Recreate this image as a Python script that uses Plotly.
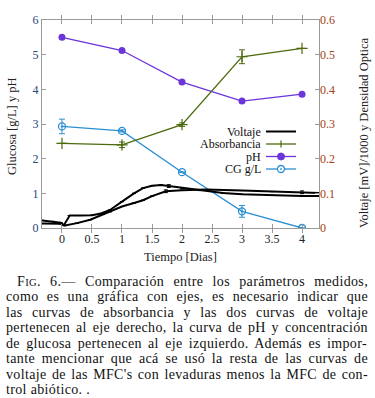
import plotly.graph_objects as go

# ---------------- data ----------------
days = [0, 1, 2, 3, 4]
ph = [5.50, 5.12, 4.21, 3.66, 3.86]
cg = [2.93, 2.80, 1.61, 0.48, 0.00]
cg_err = [0.21, 0.03, float('nan'), 0.17, float('nan')]
absorb = [0.244, 0.240, 0.298, 0.494, 0.518]
absorb_err = [float('nan'), 0.008, 0.005, 0.020, float('nan')]

volt_a_t = [-0.333, -0.15, -0.02, 0.03, 0.13, 0.3, 0.5, 0.65, 0.8, 1.0, 1.2,
            1.35, 1.5, 1.65, 1.78, 2.0, 2.3, 2.68, 3.0, 3.5, 4.0, 4.283]
volt_a = [0.022, 0.019, 0.015, 0.008, 0.036, 0.036, 0.037, 0.042, 0.052, 0.076, 0.100,
          0.115, 0.122, 0.124, 0.121, 0.115, 0.108, 0.101, 0.097, 0.094, 0.092, 0.092]
volt_a_err = [float('nan')] * 14 + [0.004] + [float('nan')] * 7

volt_b_t = [-0.333, -0.15, -0.02, 0.05, 0.25, 0.47, 0.68, 0.8, 1.0, 1.2, 1.35,
            1.5, 1.73, 2.0, 2.4, 3.0, 3.5, 4.0, 4.283]
volt_b = [0.013, 0.013, 0.012, 0.007, 0.014, 0.024, 0.039, 0.047, 0.062, 0.072, 0.080,
          0.092, 0.106, 0.109, 0.111, 0.108, 0.105, 0.103, 0.101]
volt_b_err = [float('nan')] * 12 + [0.004] + [float('nan')] * 4 + [0.004, float('nan')]

x_ticks = [0, 0.5, 1, 1.5, 2, 2.5, 3, 3.5, 4]

caption_lines = [
    "FIG. 6.— Comparación entre los parámetros medidos,",
    "como es una gráfica con ejes, es necesario indicar que",
    "las curvas de absorbancia y las dos curvas de voltaje",
    "pertenecen al eje derecho, la curva de pH y concentración",
    "de glucosa pertenecen al eje izquierdo. Además es impor-",
    "tante mencionar que acá se usó la resta de las curvas de",
    "voltaje de las MFC's con levaduras menos la MFC de con-",
    "trol abiótico. .",
]

# ---------------- style ----------------
C_PH = "#6a35d9"
C_CG = "#2b8fd2"
C_ABS = "#4b6a0c"
C_V = "#000000"
C_LEFT = "#24467a"
C_RIGHT = "#a33c12"
FRAME = "#9a9a9a"
SERIF = "Liberation Serif"
CAP_FONT = "Liberation Serif"
CAP_SIZE = 14.0
SC_SIZE = 10.5
LETTER_SP = 0.35

W, H = 375, 398
L, R, T, B = 42, 319, 20, 228


def px_x(px):
    return (px - L) / (R - L)


def px_y(py):
    return (B - py) / (B - T)


# Times / Liberation Serif advance widths (per 1000 em) for justifying the caption
_TW = {' ': 250, ',': 250, '.': 250, '-': 333, "'": 180, '—': 1000, '0': 500, '6': 500,
       'A': 722, 'C': 667, 'F': 556, 'G': 722, 'H': 722, 'I': 333, 'M': 889,
       'a': 444, 'b': 500, 'c': 444, 'd': 500, 'e': 444, 'f': 333, 'g': 500, 'h': 500,
       'i': 278, 'j': 278, 'k': 500, 'l': 278, 'm': 778, 'n': 500, 'o': 500, 'p': 500,
       'q': 500, 'r': 333, 's': 389, 't': 278, 'u': 500, 'v': 500, 'w': 722, 'x': 500,
       'y': 500, 'z': 444, 'á': 444, 'é': 444, 'í': 278, 'ó': 500, 'ú': 500}


def text_width(s, size):
    return sum(_TW.get(ch, 500) for ch in s) * size / 1000.0 + LETTER_SP * len(s)


def caption_markup(i, line):
    """Return (markup, left_px) for caption line i, justified to the right edge."""
    left = 16 if i == 0 else 5
    right = 367
    if i == 0:
        rest = line[3:]
        nat = text_width("F", CAP_SIZE) + text_width("IG", SC_SIZE) + text_width(rest, CAP_SIZE)
        body_txt = "F<span style='font-size:%.1fpx'>IG</span>%s" % (SC_SIZE, rest)
    else:
        nat = text_width(line, CAP_SIZE)
        body_txt = line
    if i == len(caption_lines) - 1:
        ws = 0.0
    else:
        n_sp = line.count(' ')
        ws = max(0.0, (right - left - nat) / n_sp) if n_sp else 0.0
    style = "letter-spacing:%.2fpx;word-spacing:%.2fpx" % (LETTER_SP, ws)
    return "<span style='%s'>%s</span>" % (style, body_txt), left


fig = go.Figure()

fig.add_trace(go.Scatter(x=volt_a_t, y=volt_a, yaxis="y2", mode="lines",
                         line=dict(color=C_V, width=2),
                         error_y=dict(type="data", array=volt_a_err, color=C_V,
                                      thickness=1, width=2),
                         showlegend=False))
fig.add_trace(go.Scatter(x=volt_b_t, y=volt_b, yaxis="y2", mode="lines",
                         line=dict(color=C_V, width=2),
                         error_y=dict(type="data", array=volt_b_err, color=C_V,
                                      thickness=1, width=2),
                         showlegend=False))
fig.add_trace(go.Scatter(x=days, y=absorb, yaxis="y2", mode="lines+markers",
                         line=dict(color=C_ABS, width=1.3),
                         marker=dict(symbol="cross-thin", size=8,
                                     line=dict(color=C_ABS, width=1.2)),
                         error_y=dict(type="data", array=absorb_err, color=C_ABS,
                                      thickness=1, width=3),
                         showlegend=False))
fig.add_trace(go.Scatter(x=days, y=ph, mode="lines+markers",
                         line=dict(color=C_PH, width=1.3),
                         marker=dict(symbol="circle", size=7, color=C_PH),
                         showlegend=False))
fig.add_trace(go.Scatter(x=days, y=cg, mode="lines+markers",
                         line=dict(color=C_CG, width=1.3),
                         marker=dict(symbol="circle-open-dot", size=7,
                                     line=dict(color=C_CG, width=1.3)),
                         error_y=dict(type="data", array=cg_err, color=C_CG,
                                      thickness=1, width=3),
                         showlegend=False))

axis_common = dict(showgrid=False, zeroline=False, ticks="inside", ticklen=4,
                   tickcolor=FRAME, showline=True, linecolor=FRAME, linewidth=1)

fig.update_layout(
    width=W, height=H,
    margin=dict(l=L, r=W - R, t=T, b=H - B, pad=0),
    paper_bgcolor="white", plot_bgcolor="white",
    showlegend=False,
    xaxis=dict(range=[-0.333, 4.283], tickvals=x_ticks,
               tickfont=dict(family=SERIF, size=12, color="#222222"),
               mirror="allticks", **axis_common),
    yaxis=dict(range=[0, 6], dtick=1, tick0=0,
               tickfont=dict(family=SERIF, size=12, color=C_LEFT),
               mirror="allticks", **axis_common),
    yaxis2=dict(range=[0, 0.6], dtick=0.1, tick0=0, overlaying="y", side="right",
                tickfont=dict(family=SERIF, size=12, color=C_RIGHT),
                showgrid=False, zeroline=False, ticks="inside", ticklen=4,
                tickcolor=FRAME, showline=False),
)

ann = []
# axis titles
ann.append(dict(text="Tiempo [Dias]", x=px_x(180), y=px_y(257), xref="paper", yref="paper",
                showarrow=False, xanchor="center", yanchor="middle",
                font=dict(family=SERIF, size=12.5, color="#222222")))
ann.append(dict(text="Glucosa [g/L] y pH", x=px_x(12), y=px_y(126), xref="paper", yref="paper",
                showarrow=False, xanchor="center", yanchor="middle", textangle=-90,
                font=dict(family=SERIF, size=12.5, color="#222222")))
ann.append(dict(text="Voltaje [mV]/1000 y Densidad Optica", x=px_x(364), y=px_y(133),
                xref="paper", yref="paper",
                showarrow=False, xanchor="center", yanchor="middle", textangle=-90,
                font=dict(family=SERIF, size=12.5, color="#222222")))

# manual legend (label left, sample right)
legend_rows = [("Voltaje", 131.5), ("Absorbancia", 144), ("pH", 156.5), ("CG g/L", 169)]
for name, yy in legend_rows:
    ann.append(dict(text=name, x=px_x(262), y=px_y(yy), xref="paper", yref="paper",
                    showarrow=False, xanchor="right", yanchor="middle", borderpad=0,
                    font=dict(family=SERIF, size=12, color="#111111")))

shapes = []
sample_cols = [(C_V, 2), (C_ABS, 1.3), (C_PH, 1.3), (C_CG, 1.3)]
for (name, yy), (col, w) in zip(legend_rows, sample_cols):
    shapes.append(dict(type="line", xref="paper", yref="paper",
                       x0=px_x(266), x1=px_x(296), y0=px_y(yy), y1=px_y(yy),
                       line=dict(color=col, width=w)))
# legend point glyphs
ya = legend_rows[1][1]
shapes.append(dict(type="line", xref="paper", yref="paper", x0=px_x(281), x1=px_x(281),
                   y0=px_y(ya - 3.5), y1=px_y(ya + 3.5), line=dict(color=C_ABS, width=1.2)))
yp = legend_rows[2][1]
shapes.append(dict(type="circle", xref="paper", yref="paper", x0=px_x(277.5), x1=px_x(284.5),
                   y0=px_y(yp + 3.5), y1=px_y(yp - 3.5), fillcolor=C_PH,
                   line=dict(color=C_PH, width=1)))
yc = legend_rows[3][1]
shapes.append(dict(type="circle", xref="paper", yref="paper", x0=px_x(277.5), x1=px_x(284.5),
                   y0=px_y(yc + 3.5), y1=px_y(yc - 3.5), fillcolor="white",
                   line=dict(color=C_CG, width=1.3)))
shapes.append(dict(type="circle", xref="paper", yref="paper", x0=px_x(280.3), x1=px_x(281.7),
                   y0=px_y(yc + 0.7), y1=px_y(yc - 0.7), fillcolor=C_CG,
                   line=dict(color=C_CG, width=0.5)))

# caption
cap_y0, cap_dy = 281, 15.5
for i, line in enumerate(caption_lines):
    markup, xx = caption_markup(i, line)
    ann.append(dict(text=markup, x=px_x(xx), y=px_y(cap_y0 + i * cap_dy), xref="paper",
                    yref="paper", showarrow=False, xanchor="left", yanchor="middle",
                    borderpad=0,
                    font=dict(family=CAP_FONT, size=CAP_SIZE, color="#111111")))

fig.update_layout(annotations=ann, shapes=shapes)

fig.write_html("out.html", config={"displayModeBar": False},
               post_script="document.body.style.margin='0';document.body.style.padding='0';")
